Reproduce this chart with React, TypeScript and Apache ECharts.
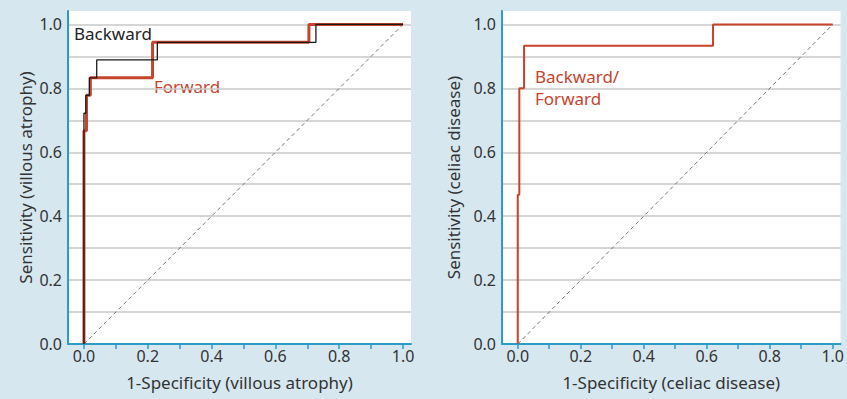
import React, { useEffect, useRef } from "react";
import * as echarts from "echarts";

// Left panel: villous atrophy ROC curves (1-specificity, sensitivity)
const forwardVA_fpr = [0, 0, 0.008, 0.02, 0.215, 0.705, 1.0];
const forwardVA_tpr = [0, 0.667, 0.778, 0.833, 0.944, 1.0, 1.0];
const backwardVA_fpr = [0, 0, 0.006, 0.017, 0.04, 0.23, 0.727, 1.0];
const backwardVA_tpr = [0, 0.722, 0.778, 0.833, 0.889, 0.944, 1.0, 1.0];

// Right panel: celiac disease ROC curve (backward = forward)
const bothCD_fpr = [0, 0, 0.005, 0.02, 0.62, 1.0];
const bothCD_tpr = [0, 0.467, 0.8, 0.933, 1.0, 1.0];

// Chance diagonal
const diagX = [0, 1];
const diagY = [0, 1];

const leftXName = "1-Specificity (villous atrophy)";
const leftYName = "Sensitivity (villous atrophy)";
const rightXName = "1-Specificity (celiac disease)";
const rightYName = "Sensitivity (celiac disease)";

const zip = (xs: number[], ys: number[]) => xs.map((x, i) => [x, ys[i]]);

const BLUE = "#2b9bc8";
const RED = "#c8432b";
const FONT = "Noto Sans";

const fmt = (v: number) => {
  const t = Math.round(v * 10);
  if (Math.abs(v * 10 - t) > 1e-6 || t % 2 !== 0) return "";
  return v.toFixed(1);
};

const xAxis = (gridIndex: number, name: string) => ({
  type: "value",
  gridIndex,
  min: -0.05,
  max: 1.025,
  splitNumber: 10,
  name,
  nameLocation: "middle",
  nameGap: 30,
  nameTextStyle: { color: "#333", fontSize: 17, fontFamily: FONT },
  axisLine: { show: true, onZero: false, lineStyle: { color: BLUE, width: 2 } },
  axisTick: { show: true, length: 5, lineStyle: { color: BLUE, width: 1.5 } },
  axisLabel: {
    formatter: fmt,
    color: "#333",
    fontSize: 16,
    fontFamily: FONT,
    margin: 4,
    showMinLabel: false,
    showMaxLabel: false,
  },
  splitLine: { show: false },
});

const yAxis = (gridIndex: number, name: string, gap: number) => ({
  type: "value",
  gridIndex,
  min: 0,
  max: 1.042,
  splitNumber: 10,
  name,
  nameLocation: "middle",
  nameGap: gap,
  nameTextStyle: { color: "#333", fontSize: 17, fontFamily: FONT },
  axisLine: { show: true, onZero: false, lineStyle: { color: BLUE, width: 2 } },
  axisTick: { show: false },
  axisLabel: {
    formatter: fmt,
    color: "#333",
    fontSize: 16,
    fontFamily: FONT,
    margin: 6,
    showMaxLabel: false,
  },
  splitLine: {
    show: true,
    showMaxLine: false,
    showMinLine: false,
    lineStyle: { color: "#c8c8c8", width: 1.5 },
  },
});

const diag = (idx: number) => ({
  type: "line",
  xAxisIndex: idx,
  yAxisIndex: idx,
  data: zip(diagX, diagY),
  symbol: "none",
  lineStyle: { color: "#777", width: 1, type: [4, 3] },
  silent: true,
});

const stepLine = (idx: number, data: number[][], color: string, width: number) => ({
  type: "line",
  xAxisIndex: idx,
  yAxisIndex: idx,
  data,
  step: "end",
  symbol: "none",
  lineStyle: { color, width },
  silent: true,
});

export default function App() {
  const ref = useRef<HTMLDivElement>(null);
  useEffect(() => {
    document.body.style.margin = "0";
    if (!ref.current) return;
    const chart = echarts.init(ref.current, undefined, { renderer: "svg" });
    chart.setOption({
      animation: false,
      backgroundColor: "#d7e7f0",
      grid: [
        { left: 68, top: 11, width: 343, height: 333, show: true, backgroundColor: "#fff", borderWidth: 0 },
        { left: 502, top: 11, width: 343, height: 333, show: true, backgroundColor: "#fff", borderWidth: 0 },
      ],
      xAxis: [xAxis(0, leftXName), xAxis(1, rightXName)],
      yAxis: [yAxis(0, leftYName, 34), yAxis(1, rightYName, 40)],
      series: [
        diag(0),
        stepLine(0, zip(forwardVA_fpr, forwardVA_tpr), RED, 3),
        stepLine(0, zip(backwardVA_fpr, backwardVA_tpr), "#1a1a1a", 1.3),
        diag(1),
        stepLine(1, zip(bothCD_fpr, bothCD_tpr), RED, 2),
      ],
      graphic: [
        { type: "text", left: 74, top: 25, style: { text: "Backward", fill: "#222", font: `17px "${FONT}"` } },
        { type: "text", left: 154, top: 78, style: { text: "Forward", fill: RED, font: `17px "${FONT}"` } },
        {
          type: "text",
          left: 535,
          top: 65,
          style: { text: "Backward/\nForward", fill: RED, font: `17px "${FONT}"`, lineHeight: 22 },
        },
      ],
    });
    return () => chart.dispose();
  }, []);
  return <div ref={ref} style={{ width: 847, height: 399 }} />;
}
